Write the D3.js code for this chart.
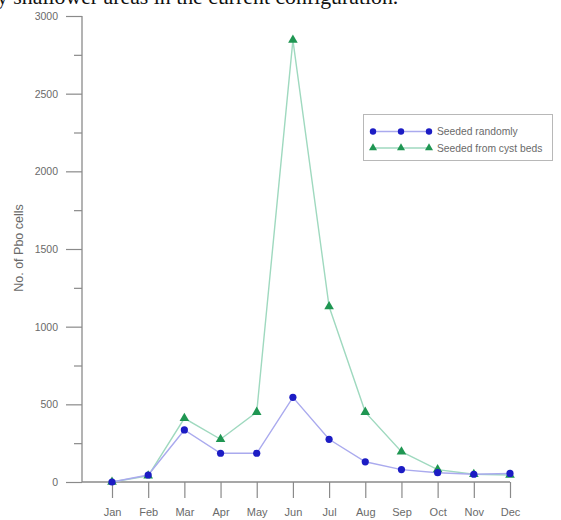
<!DOCTYPE html>
<html><head><meta charset="utf-8">
<script src="https://cdn.jsdelivr.net/npm/d3@7/dist/d3.min.js"></script>
<style>body{margin:0;background:#fff}svg{display:block}</style>
</head><body>
<svg id="c" width="561" height="520"></svg>
<script>
const months = ["Jan","Feb","Mar","Apr","May","Jun","Jul","Aug","Sep","Oct","Nov","Dec"];
const seededRandomly = [0,45,335,185,185,545,275,130,80,60,50,55];
const seededCystBeds = [0,40,410,275,450,2845,1130,450,195,80,50,45];
const yTicks = [0,500,1000,1500,2000,2500,3000];
const yMinorTicks = [250,750,1250,1750,2250,2750];
const seriesNames = ["Seeded randomly","Seeded from cyst beds"];

const svg = d3.select("#c");
const x = d3.scalePoint().domain(months).range([112,510]);
const y = d3.scaleLinear().domain([0,3000]).range([482,16]);
const axisCol = "#8a8a8a", textCol = "#6a6a6a";

// clipped caption from page above
svg.append("text").attr("x",-3).attr("y",4)
  .attr("font-family","Liberation Serif, serif").attr("font-size",21.8).attr("fill","#111")
  .text("y shallower areas in the current configuration.");

// y axis
const yAxis = svg.append("g").attr("transform","translate(82,0)")
  .call(d3.axisLeft(y).tickValues(yTicks).tickSize(16).tickPadding(8).tickFormat(d3.format("d")));
yAxis.select(".domain").attr("stroke",axisCol).attr("stroke-width",1.3).attr("d","M0,16V482");
yAxis.selectAll(".tick line").attr("stroke",axisCol).attr("stroke-width",1.2);
yAxis.selectAll(".tick text").attr("fill",textCol).attr("font-family","Liberation Sans, Arial, sans-serif").attr("font-size",10.5);
const yMinor = svg.append("g").attr("transform","translate(82,0)")
  .call(d3.axisLeft(y).tickValues(yMinorTicks).tickSize(8).tickFormat(""));
yMinor.select(".domain").remove();
yMinor.selectAll(".tick line").attr("stroke",axisCol).attr("stroke-width",1.2);

// x axis
const xAxis = svg.append("g").attr("transform","translate(0,482)")
  .call(d3.axisBottom(x).tickSize(16).tickPadding(10));
xAxis.select(".domain").attr("stroke",axisCol).attr("stroke-width",1.3).attr("d","M82,0H510");
xAxis.selectAll(".tick line").attr("stroke",axisCol).attr("stroke-width",1.2);
xAxis.selectAll(".tick text").attr("fill",textCol).attr("font-family","Liberation Sans, Arial, sans-serif").attr("font-size",11);

// y label
svg.append("text").attr("transform","translate(22.5,248) rotate(-90)")
  .attr("text-anchor","middle").attr("fill",textCol)
  .attr("font-family","Liberation Sans, Arial, sans-serif").attr("font-size",12.5)
  .text("No. of Pbo cells");

const line = d3.line().x((d,i)=>x(months[i])).y(d=>y(d));
const blueLine = "#aaaaee", blueMark = "#1c1cc4";
const greenLine = "#9fd9bf", greenMark = "#1f9652";
const tri = d3.symbol().type(d3.symbolTriangle).size(40);

svg.append("path").datum(seededCystBeds).attr("d",line).attr("fill","none").attr("stroke",greenLine).attr("stroke-width",1.4);
svg.append("path").datum(seededRandomly).attr("d",line).attr("fill","none").attr("stroke",blueLine).attr("stroke-width",1.4);
svg.selectAll(".gm").data(seededCystBeds).enter().append("path")
  .attr("d",tri).attr("transform",(d,i)=>`translate(${x(months[i])},${y(d)})`).attr("fill",greenMark);
svg.selectAll(".bm").data(seededRandomly).enter().append("circle")
  .attr("cx",(d,i)=>x(months[i])).attr("cy",d=>y(d)).attr("r",3.6).attr("fill",blueMark);

// legend
const lg = svg.append("g");
lg.append("rect").attr("x",363.5).attr("y",114.5).attr("width",189).attr("height",46)
  .attr("fill","#fff").attr("stroke","#b8b8b8").attr("stroke-width",1);
const rows = [
  {name:seriesNames[0], y:131.5, lc:blueLine, mc:blueMark, shape:"c"},
  {name:seriesNames[1], y:148, lc:greenLine, mc:greenMark, shape:"t"}
];
rows.forEach(r=>{
  lg.append("line").attr("x1",373).attr("x2",429).attr("y1",r.y).attr("y2",r.y).attr("stroke",r.lc).attr("stroke-width",1.4);
  [373,401,429].forEach(px=>{
    if(r.shape==="c") lg.append("circle").attr("cx",px).attr("cy",r.y).attr("r",3.2).attr("fill",r.mc);
    else lg.append("path").attr("d",d3.symbol().type(d3.symbolTriangle).size(28)).attr("transform",`translate(${px},${r.y})`).attr("fill",r.mc);
  });
  lg.append("text").attr("x",437).attr("y",r.y+3.5).attr("fill",textCol)
    .attr("font-family","Liberation Sans, Arial, sans-serif").attr("font-size",10.3).text(r.name);
});
</script>
</body></html>
